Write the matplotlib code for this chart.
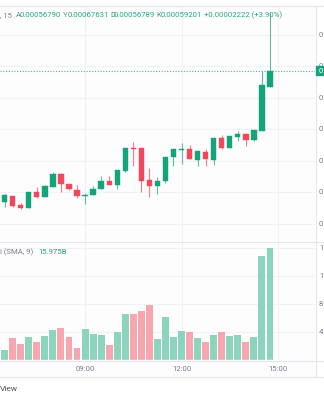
import numpy as np
import matplotlib.pyplot as plt

# 15 dakikalik mumlar, 06:15 - 14:45
start_time = "06:15"
opens = [572.90, 573.54, 574.44, 573.02, 572.54, 575.08, 574.33, 575.92, 577.98, 576.35,
         575.44, 574.44, 574.65, 575.51, 576.83, 576.19, 578.46, 582.06, 582.02, 576.94,
         576.08, 576.75, 580.63, 581.75, 581.98, 580.16, 581.48, 580.21, 583.65, 582.06,
         583.86, 584.29, 583.29, 584.81, 591.79]
highs = [573.80, 574.68, 574.52, 573.29, 575.08, 575.92, 576.14, 578.25, 578.05, 576.35,
         576.24, 574.97, 576.03, 577.62, 577.62, 578.57, 582.06, 583.02, 582.06, 578.84,
         577.43, 580.71, 581.86, 582.81, 582.46, 581.54, 581.98, 583.65, 584.08, 584.00,
         584.71, 584.32, 584.92, 594.29, 603.50]
lows = [572.60, 572.75, 572.75, 572.33, 572.49, 574.08, 574.33, 575.87, 575.08, 575.44,
        574.13, 573.13, 574.56, 575.48, 576.11, 575.63, 578.25, 579.21, 575.13, 574.21,
        574.79, 576.56, 579.21, 579.60, 580.24, 579.25, 579.21, 579.41, 581.86, 582.02,
        583.22, 582.43, 583.25, 584.76, 591.79]
closes = [573.50, 574.60, 572.90, 572.54, 575.03, 574.33, 576.03, 577.98, 576.30, 575.51,
          574.40, 574.65, 575.56, 576.83, 576.14, 578.52, 582.02, 581.90, 576.87, 576.06,
          576.83, 580.68, 581.83, 581.98, 580.27, 581.51, 580.32, 583.60, 582.11, 583.97,
          584.29, 583.33, 584.87, 592.06, 594.29]
volumes = [2.40, 1.37, 3.07, 2.27, 3.31, 2.50, 3.41, 4.31, 4.50, 3.31,
           1.75, 4.41, 3.74, 3.50, 2.18, 4.03, 6.59, 6.59, 7.01, 7.82,
           3.03, 6.06, 3.27, 4.17, 4.03, 3.17, 2.56, 3.60, 4.03, 3.41,
           3.50, 2.60, 3.31, 14.74, 15.975]

price_ticks = [600, 595, 590, 585, 580, 575, 570]
vol_ticks = [4, 8, 12, 16]
time_labels = ["09:00", "12:00", "15:00"]

header_vals = ["0.00056790", "0.00067631", "0.00056789", "0.00059201"]
header_keys = ["A", "Y", "D", "K"]
header_change = "+0.00002222 (+3.90%)"

o = np.array(opens) * 1e-6
h = np.array(highs) * 1e-6
l = np.array(lows) * 1e-6
c = np.array(closes) * 1e-6
v = np.array(volumes)
x = np.arange(len(o))

UP = '#13a47b'
DN = '#f1485b'
UP_V = '#8dd4be'
DN_V = '#f7a6af'
GRID = '#f1f2f6'
LINE = '#e4e6ec'
TXT = '#7b7e89'
plt.rcParams['font.family'] = ['Roboto', 'DejaVu Sans']

W, H = 324, 400
fig = plt.figure(figsize=(W / 100, H / 100), dpi=100)
fig.patch.set_facecolor('white')


def px_axes(x0, y0, x1, y1):
    return fig.add_axes([x0 / W, 1 - y1 / H, (x1 - x0) / W, (y1 - y0) / H])


def xpos(hhmm):
    hh, mm = map(int, hhmm.split(':'))
    sh, sm = map(int, start_time.split(':'))
    return ((hh * 60 + mm) - (sh * 60 + sm)) / 15


xmin, xmax = 0.42, 39.6
up = c >= o

# fiyat paneli
ax = px_axes(0, 6, 315, 242)
ax.set_facecolor('#fdfdfe')
ax.set_xlim(xmin, xmax)
ax.set_ylim(567.14e-6, 604.60e-6)
for p in price_ticks:
    ax.axhline(p * 1e-6, color=GRID, lw=0.8, zorder=0)
for t in time_labels:
    ax.axvline(xpos(t), color=GRID, lw=0.8, zorder=0)
cols = np.where(up, UP, DN)
wick_cols = np.where(up, '#5cbf9f', '#f37d8a')
ax.vlines(x, l, h, colors=wick_cols, lw=0.8, zorder=2)
body_lo = np.minimum(o, c)
body_h = np.maximum(np.abs(c - o), 0.17e-6)
ax.bar(x, body_h, bottom=body_lo, width=0.66, color=cols, zorder=3,
       edgecolor=cols, linewidth=0.3)
ax.axhline(c[-1], color=UP, lw=0.8, ls=(0, (1, 1.5)), alpha=0.8, zorder=1)
ax.set_xticks([])
ax.set_yticks([])
for s in ax.spines.values():
    s.set_visible(False)

# hacim paneli
axv = px_axes(0, 242, 315, 360)
axv.set_facecolor('#fdfdfe')
axv.set_xlim(xmin, xmax)
axv.set_ylim(0, 16.79)
for q in vol_ticks:
    axv.axhline(q, color=GRID, lw=0.8, zorder=0)
for t in time_labels:
    axv.axvline(xpos(t), color=GRID, lw=0.8, zorder=0)
axv.bar(x, v, width=0.86, color=np.where(up, UP_V, DN_V), zorder=2)
axv.set_xticks([])
axv.set_yticks([])
for s in axv.spines.values():
    s.set_visible(False)

# cerceve, eksen etiketleri
ov = fig.add_axes([0, 0, 1, 1], facecolor='none')
ov.set_xlim(0, W)
ov.set_ylim(H, 0)
ov.axis('off')
ov.add_patch(plt.Rectangle((0, 360), 315, 17, color='#fdfdfe', zorder=0))
for yy in [6, 242, 360.5, 377]:
    ov.plot([0, W], [yy, yy], color=LINE, lw=0.8)
ov.plot([315.5, 315.5], [6, 377], color=LINE, lw=0.8)

fs = 5.6
ymap = lambda p: 6 + (604.60 - p) / (604.60 - 567.14) * 236
# the right axis is cropped in the screenshot: only the first glyph shows
for p in price_ticks:
    ov.text(319, ymap(p), f"{p * 1e-6:.8f}"[0], fontsize=fs, color=TXT, va='center', ha='left')
for q in vol_ticks:
    ov.text(319, 360 - q / 16.79 * 118, f"{q}B"[0], fontsize=fs, color=TXT, va='center', ha='left')
yc = ymap(closes[-1])
ov.add_patch(plt.Rectangle((316, yc - 4.5), 10, 9, color=UP, zorder=4))
ov.text(318.5, yc, f"{c[-1]:.8f}"[0], fontsize=fs, color='white', va='center', ha='left', zorder=5)

for t in time_labels:
    xp = (xpos(t) - xmin) / (xmax - xmin) * 315
    ov.text(xp, 369, t, fontsize=fs, color=TXT, va='center', ha='center')

# ust bilgi satiri
ov.text(0, 15, ", 15", fontsize=fs, color=TXT, va='center', ha='left')
key_x = [16, 63.3, 110, 156.7]
for k, val, kx in zip(header_keys, header_vals, key_x):
    ov.text(kx, 15, k, fontsize=fs, color='#6b8d85', va='center', ha='left')
    ov.text(kx + 3.9, 15, val, fontsize=fs, color='#22a883', va='center', ha='left')
ov.text(204, 15, header_change, fontsize=fs, color='#22a883', va='center', ha='left')

ov.text(0.5, 252, "i (SMA, 9)", fontsize=fs, color=TXT, va='center', ha='left')
ov.text(38.5, 252, f"{volumes[-1]:.3f}B", fontsize=fs, color='#22a883', va='center', ha='left')

ov.text(0, 389, "View", fontsize=fs + 0.4, color='#50535e', va='center', ha='left')

fig.savefig('out.png', dpi=100)
